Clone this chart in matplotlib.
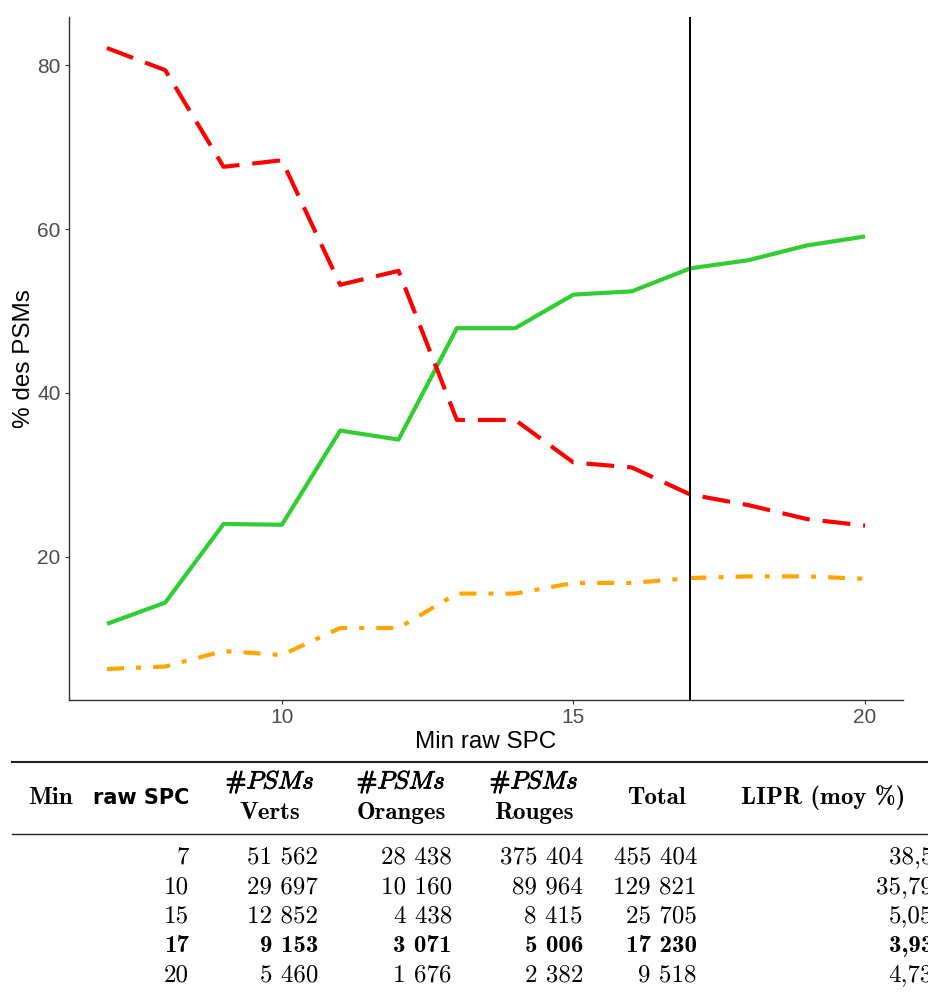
import matplotlib
matplotlib.use("Agg")
import matplotlib.pyplot as plt
import matplotlib.patheffects as pe

plt.rcParams['font.family'] = ['Liberation Sans', 'DejaVu Sans']
plt.rcParams['mathtext.fontset'] = 'cm'

# ---- Data ----
min_spc = [7, 8, 9, 10, 11, 12, 13, 14, 15, 16, 17, 18, 19, 20]
pct_verts = [11.8, 14.4, 24.0, 23.9, 35.4, 34.3, 47.9, 47.9, 52.0, 52.4, 55.2, 56.2, 58.0, 59.1]
pct_rouges = [82.1, 79.4, 67.6, 68.4, 53.2, 54.9, 36.7, 36.7, 31.5, 30.9, 27.6, 26.3, 24.6, 23.8]
pct_oranges = [6.3, 6.6, 8.5, 8.0, 11.3, 11.3, 15.5, 15.5, 16.8, 16.8, 17.4, 17.6, 17.6, 17.3]
seuil = 17

# table below the plot
tab_spc = [7, 10, 15, 17, 20]
tab_verts = [51562, 29697, 12852, 9153, 5460]
tab_oranges = [28438, 10160, 4438, 3071, 1676]
tab_rouges = [375404, 89964, 8415, 5006, 2382]
tab_total = [455404, 129821, 25705, 17230, 9518]
tab_lipr = ["38,5", "35,79", "5,05", "3,93", "4,73"]
bold_row = 3

W, H = 929, 992
fig = plt.figure(figsize=(W / 100, H / 100), dpi=100)
ax = fig.add_axes([69 / W, 1 - 700 / H, (903 - 69) / W, (700 - 17) / H])

ax.plot(min_spc, pct_verts, color='#32CD32', lw=3, solid_capstyle='butt')
ax.plot(min_spc, pct_rouges, color='#FF0000', lw=3, linestyle=(0, (6.7, 3.1)),
        dash_capstyle='butt')
ax.plot(min_spc, pct_oranges, color='#FFA500', lw=3, linestyle=(0, (4.1, 2.9, 1.2, 2.9)),
        dash_capstyle='butt')
ax.axvline(seuil, color='black', lw=1.4)

# ggplot-like 5% expansion
allv = pct_verts + pct_rouges + pct_oranges
ymin, ymax = min(allv), max(allv)
xr = max(min_spc) - min(min_spc)
ax.set_xlim(min(min_spc) - 0.05 * xr, max(min_spc) + 0.05 * xr)
ax.set_ylim(ymin - 0.05 * (ymax - ymin), ymax + 0.05 * (ymax - ymin))
ax.set_xticks([10, 15, 20])
ax.set_yticks([20, 40, 60, 80])

for s in ['top', 'right']:
    ax.spines[s].set_visible(False)
for s in ['left', 'bottom']:
    ax.spines[s].set_color('#333333')
    ax.spines[s].set_linewidth(1.0)
ax.tick_params(length=3, width=0.8, color='#333333', labelcolor='#4D4D4D',
               labelsize=15, pad=3)
ax.set_xlabel('Min raw SPC', fontsize=17.5, labelpad=3)
ax.set_ylabel('% des PSMs', fontsize=17.5, labelpad=1.5)


# ---- Table ----
def fx(x):
    return x / W


def fy(y):
    return 1 - y / H


def fmt(v):
    return f"{v:,}".replace(",", " ")


FS = 18
fig.add_artist(plt.Line2D([fx(12), fx(940)], [fy(761.5), fy(761.5)], color='#222222', lw=1.5))
fig.add_artist(plt.Line2D([fx(12), fx(940)], [fy(834), fy(834)], color='#222222', lw=1.0))

# header
fig.text(fx(28), fy(798), "Min", fontsize=FS, family='cmb10', ha='left', va='center')
fig.text(fx(189), fy(798), "raw SPC", fontsize=15, fontweight='bold',
         family='DejaVu Sans', ha='right', va='center')
stroke = [pe.withStroke(linewidth=0.6, foreground='black')]
for cx, lab in [(270, "Verts"), (401, "Oranges"), (534, "Rouges")]:
    fig.text(fx(cx), fy(782), r"#$PSMs$", fontsize=FS, ha='center', va='center',
             family='cmb10', path_effects=stroke)
    fig.text(fx(cx), fy(813), lab, fontsize=FS, family='cmb10', ha='center', va='center')
fig.text(fx(656), fy(798), "Total", fontsize=FS, family='cmb10', ha='center', va='center')
fig.text(fx(823), fy(798), "LIPR (moy %)", fontsize=FS, family='cmb10', ha='center', va='center')

row_y = [857, 887, 916, 946, 975]
col_right = [189, 318, 452, 583, 697]
for i, ry in enumerate(row_y):
    fam = 'cmb10' if i == bold_row else 'cmr10'
    vals = [tab_spc[i], tab_verts[i], tab_oranges[i], tab_rouges[i], tab_total[i]]
    for cr, v in zip(col_right, vals):
        fig.text(fx(cr), fy(ry), fmt(v), fontsize=FS, family=fam, ha='right', va='center')
    fig.text(fx(933), fy(ry), tab_lipr[i], fontsize=FS, family=fam, ha='right', va='center')

fig.savefig('out.png', dpi=100)
